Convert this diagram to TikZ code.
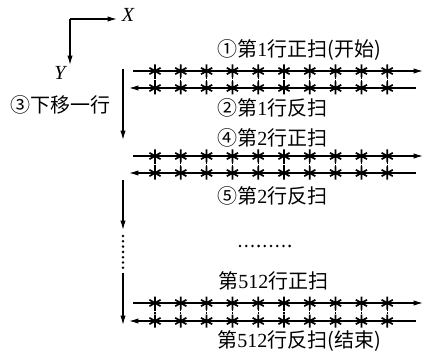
\documentclass[tikz,border=0pt]{standalone}
\usepackage{fontspec}
\setmainfont{Liberation Serif}
\newfontfamily\cjk{Noto Sans CJK SC}
\usetikzlibrary{arrows.meta, positioning}

\begin{document}
\begin{tikzpicture}[x=0.75pt, y=-0.75pt,
  lbl/.style={anchor=west, inner sep=0pt, font=\cjk\fontsize{15}{18}\selectfont},
  axlbl/.style={inner sep=0pt, font=\fontsize{15}{18}\selectfont\itshape},
  arr/.style={line width=0.9pt, -{Latex[length=7pt,width=4pt]}},
  ast/.pic={\draw[line width=1.3pt] (0,-6.5) -- (0,6.5) (-5.6,-3.2) -- (5.6,3.2) (-5.6,3.2) -- (5.6,-3.2);}
]
  \useasboundingbox (0,0) rectangle (428,356);

  % coordinate axes
  \coordinate (o) at (70,19);
  \node[axlbl] (xl) at (128,15) {X};
  \node[axlbl] (yl) at (60,73) {Y};
  \draw[arr] (o) -- (117,19);
  \draw[arr] (o) -- (70,65);

  % scan lines with pixels
  \foreach \r/\ya/\yb in {1/71/88, 2/156/173, 3/303/321} {
    \coordinate (r\r fa) at (133,\ya);
    \coordinate (r\r fb) at (423,\ya);
    \coordinate (r\r ba) at (416,\yb);
    \coordinate (r\r bb) at (129,\yb);
    \draw[arr] (r\r fa) -- (r\r fb);
    \draw[arr] (r\r ba) -- (r\r bb);
    \foreach \c in {0,...,9} {
      \pic at (155+\c*25.8,\ya) {ast};
      \pic at (155+\c*25.8,\yb) {ast};
      \draw[line width=0.8pt, dash pattern=on 1.5pt off 1pt] (155+\c*25.8,\ya+6) -- (155+\c*25.8,\yb-6);
    }
  }

  % move down one row
  \coordinate (m1) at (123,69);
  \coordinate (m2) at (123,140);
  \coordinate (m3) at (123,180);
  \coordinate (m4) at (123,230);
  \coordinate (m5) at (123,273);
  \coordinate (m6) at (123,325);
  \draw[arr] (m1) -- (m2);
  \draw[arr] (m3) -- (m4);
  \draw[arr] (m5) -- (m6);
  \foreach \i in {0,...,6}
    \fill (123,236+\i*5.3) circle (1.4);
  \foreach \i in {0,...,8}
    \fill (240+\i*6.2,246) circle (1.4);

  % labels
  \node[lbl] (t1) at (217,50) {①第{\rmfamily 1}行正扫(开始)};
  \node[lbl] (t2) at (217,108) {②第{\rmfamily 1}行反扫};
  \node[lbl] (t3) at (10,105) {③下移一行};
  \node[lbl] (t4) at (217,138) {④第{\rmfamily 2}行正扫};
  \node[lbl] (t5) at (217,196) {⑤第{\rmfamily 2}行反扫};
  \node[lbl] (t6) at (218,281) {第{\rmfamily 512}行正扫};
  \node[lbl] (t7) at (217,341) {第{\rmfamily 512}行反扫(结束)};
\end{tikzpicture}
\end{document}
